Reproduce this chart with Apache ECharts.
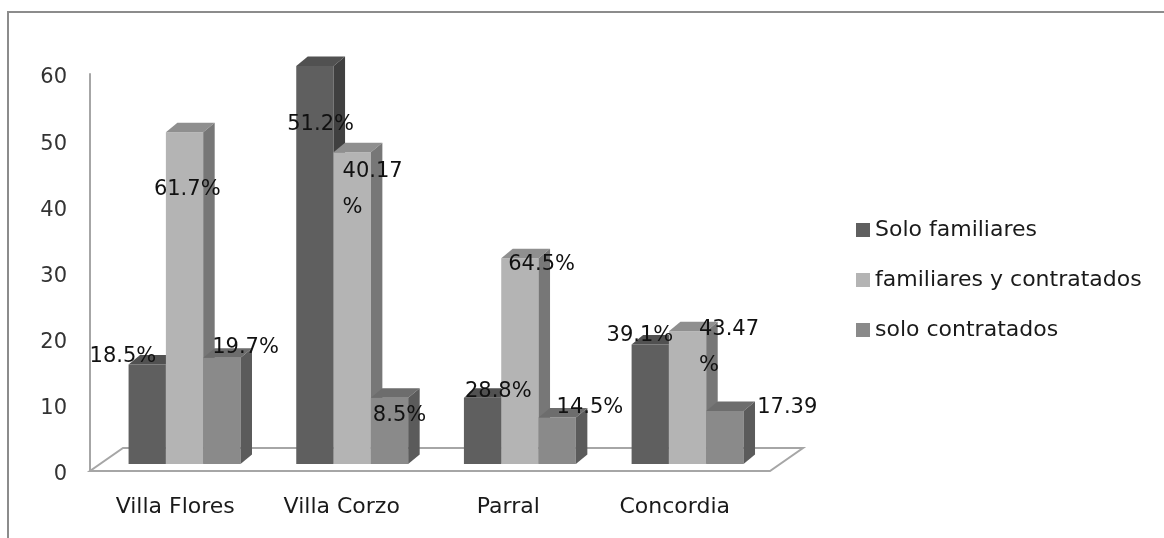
<!DOCTYPE html>
<html>
<head>
<meta charset="utf-8">
<script src="https://cdn.jsdelivr.net/npm/echarts@6/dist/echarts.min.js"></script>
<style>
  html, body { margin: 0; padding: 0; background: #ffffff; }
  #chart { width: 1164px; height: 538px; }
</style>
</head>
<body>
<div id="chart"></div>
<script>
// Workers per municipality, by type of labour
const categories = ['Villa Flores', 'Villa Corzo', 'Parral', 'Concordia'];
const seriesNames = ['Solo familiares', 'familiares y contratados', 'solo contratados'];

const soloFamiliares        = [15, 60, 10, 18];
const familiaresContratados = [50, 47, 31, 20];
const soloContratados       = [16, 10, 7, 8];

// Percentage labels shown on each column
const pctSoloFamiliares        = ['18.5%', '51.2%', '28.8%', '39.1%'];
const pctFamiliaresContratados = ['61.7%', '40.17%', '64.5%', '43.47%'];
const pctSoloContratados       = ['19.7%', '8.5%', '14.5%', '17.39'];

const yMin = 0, yMax = 60, yStep = 10;

const values = [soloFamiliares, familiaresContratados, soloContratados];
const pctLabels = [pctSoloFamiliares, pctFamiliaresContratados, pctSoloContratados];

// ---- styling ----
const FONT = '"DejaVu Sans", "Liberation Sans", sans-serif';
const faceColors = [
  { front: '#5f5f5f', top: '#515151', side: '#404040' },
  { front: '#b4b4b4', top: '#8f8f8f', side: '#777777' },
  { front: '#8a8a8a', top: '#6d6d6d', side: '#5b5b5b' }
];
const DEPTH_X = 11.5, DEPTH_Y = -9.5;          // column depth
const FLOOR_DX = 33, FLOOR_DY = -23;           // floor depth
const BAR_SHARE = 0.2225;                       // column width as share of a category band
const LABEL_LINE = 36;
// label placement relative to the column's front-left / top corner
const labelNudge = [
  [[-39, -8], [-9, 59], [1, -6], [-25, -9]],
  [[-12, 57], [9, 19], [7, 6], [30, -2]],
  [[9, -10], [2, 18], [18, -10], [51, -3]]
];

// long labels wrap before the percent sign
function wrapLabel(t) {
  return (t.length > 5 && t.endsWith('%')) ? t.slice(0, -1) + '\n%' : t;
}

function columnRenderer(s) {
  return function (params, api) {
    const cat = api.value(0);
    const val = api.value(1);
    const base = api.coord([cat, 0]);
    const topPt = api.coord([cat, val]);
    const band = api.size([1, 0])[0];
    const w = band * BAR_SHARE;
    const L = base[0] - 1.5 * w + s * w;
    const R = L + w;
    const T = topPt[1];
    const B = base[1];
    const c = faceColors[s];
    const nudge = labelNudge[s][params.dataIndex];
    return {
      type: 'group',
      children: [
        { type: 'rect', z2: s, shape: { x: L, y: T, width: w, height: B - T }, style: { fill: c.front } },
        { type: 'polygon', z2: s, shape: { points: [[L, T], [R, T], [R + DEPTH_X, T + DEPTH_Y], [L + DEPTH_X, T + DEPTH_Y]] }, style: { fill: c.top } },
        { type: 'polygon', z2: s, shape: { points: [[R, T], [R + DEPTH_X, T + DEPTH_Y], [R + DEPTH_X, B + DEPTH_Y], [R, B]] }, style: { fill: c.side } },
        {
          type: 'text', z2: 10,
          x: L + nudge[0], y: T + nudge[1] - LABEL_LINE / 2,
          style: {
            text: wrapLabel(pctLabels[s][params.dataIndex]),
            fill: '#111111', font: '21px ' + FONT,
            align: 'left', verticalAlign: 'top', lineHeight: LABEL_LINE
          }
        }
      ]
    };
  };
}

function floorRenderer(params, api) {
  const cs = params.coordSys;
  const y0 = api.coord([0, 0])[1];
  const x0 = cs.x - 2, x1 = cs.x + cs.width + 12;
  return {
    type: 'polygon',
    shape: { points: [[x0, y0], [x1, y0], [x1 + FLOOR_DX, y0 + FLOOR_DY], [x0 + FLOOR_DX, y0 + FLOOR_DY]] },
    style: { fill: '#ffffff', stroke: '#a6a6a6', lineWidth: 2 }
  };
}

const chart = echarts.init(document.getElementById('chart'), null, { renderer: 'canvas' });

const option = {
  backgroundColor: '#ffffff',
  animation: false,
  graphic: [{
    type: 'rect', silent: true, z: -10,
    shape: { x: 8, y: 12, width: 1300, height: 700 },
    style: { fill: 'none', stroke: '#8c8c8c', lineWidth: 2 }
  }],
  legend: {
    data: seriesNames,
    orient: 'vertical',
    left: 851, top: 214,
    icon: 'rect', itemWidth: 14, itemHeight: 14, itemGap: 28,
    textStyle: { fontFamily: FONT, fontSize: 22, color: '#1a1a1a', lineHeight: 22 }
  },
  grid: [
    { left: 100.7, top: 66, width: 670.7, height: 398 },   // columns
    { left: 92, top: 74, width: 666, height: 397 }          // axes and floor
  ],
  xAxis: [
    { type: 'category', gridIndex: 0, data: categories, show: false },
    {
      type: 'category', gridIndex: 1, data: categories,
      axisLine: { show: false }, axisTick: { show: false }, splitLine: { show: false },
      axisLabel: { margin: 25, fontFamily: FONT, fontSize: 22, color: '#1a1a1a' }
    }
  ],
  yAxis: [
    { type: 'value', gridIndex: 0, min: yMin, max: yMax, interval: yStep, show: false },
    {
      type: 'value', gridIndex: 1, min: yMin, max: yMax, interval: yStep, offset: 2,
      axisLine: { show: true, lineStyle: { color: '#a6a6a6', width: 2 } },
      axisTick: { show: false }, splitLine: { show: false },
      axisLabel: {
        margin: 23, verticalAlign: 'top', lineHeight: 8,
        fontFamily: FONT, fontSize: 21, color: '#333333'
      }
    }
  ],
  series: [
    {
      type: 'custom', name: 'floor', xAxisIndex: 1, yAxisIndex: 1, z: 1,
      silent: true, renderItem: floorRenderer, data: [[0, 0]]
    }
  ].concat(seriesNames.map(function (name, s) {
    return {
      type: 'custom', name: name, xAxisIndex: 0, yAxisIndex: 0, z: 2,
      itemStyle: { color: faceColors[s].front },
      renderItem: columnRenderer(s),
      encode: { x: 0, y: 1 },
      data: values[s].map(function (v, i) { return [i, v]; })
    };
  }))
};

chart.setOption(option);
</script>
</body>
</html>
